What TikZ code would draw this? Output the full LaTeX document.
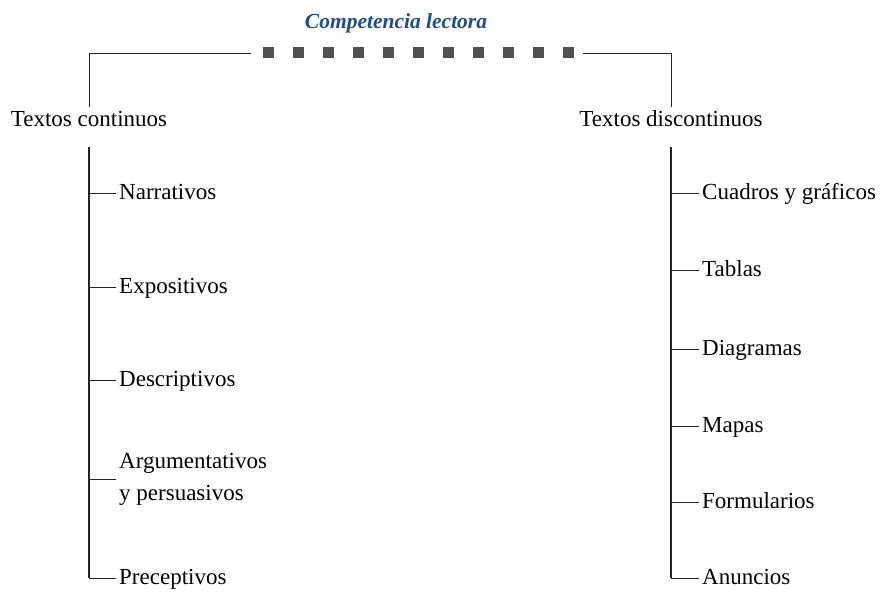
\documentclass[tikz,border=0pt]{standalone}
\usepackage{fontspec}
\setmainfont{Liberation Serif}
\usetikzlibrary{positioning,calc}
\definecolor{lectorablue}{RGB}{30,76,140}
\definecolor{markgray}{RGB}{80,80,80}
\definecolor{linegray}{RGB}{35,35,35}

\begin{document}
\begin{tikzpicture}[x=1pt, y=-1pt,
        every node/.style={font=\fontsize{23}{32}\selectfont, inner sep=3pt, text height=16pt, text depth=3pt},
        leaf/.style={anchor=west, align=left},
        spine/.style={draw=linegray, line width=1.6pt},
        branch/.style={draw=linegray, line width=0.9pt}]
    \useasboundingbox (0,0) rectangle (881,593);

    % title and the dotted bar
    \node[font=\fontsize{21.5}{26}\selectfont\bfseries\itshape, text=lectorablue] (title) at (396,22) {Competencia lectora};
    \coordinate (dotsl) at (263,53);
    \coordinate (dotsr) at (574,53);
    \coordinate (linel) at (251,53);
    \coordinate (liner) at (583,53);
    \draw[markgray, line width=11pt, dash pattern=on 11pt off 19pt] (dotsl) -- (dotsr);

    \node (cont) at (89,120) {Textos continuos};
    \node (disc) at (671,120) {Textos discontinuos};
    \draw[branch] (cont.north) |- (linel);
    \draw[branch] (disc.north) |- (liner);

    % continuous texts
    \node[leaf] (narr) at (116,193) {Narrativos};
    \node[leaf] (expo) at (116,287) {Expositivos};
    \node[leaf] (desc) at (116,380) {Descriptivos};
    \node[leaf, text height={}, text depth={}] (argu) at (116,479) {Argumentativos\\y persuasivos};
    \node[leaf] (prec) at (116,578) {Preceptivos};
    \coordinate (ltop) at (89,147);

    \draw[spine] (ltop) -- (ltop |- prec.west);
    \draw[branch] (ltop |- narr.west) -- (narr.west);
    \draw[branch] (ltop |- expo.west) -- (expo.west);
    \draw[branch] (ltop |- desc.west) -- (desc.west);
    \draw[branch] (ltop |- argu.west) -- (argu.west);
    \draw[branch] (ltop |- prec.west) -- (prec.west);

    % discontinuous texts
    \node[leaf] (cuad) at (699,193) {Cuadros y gráficos};
    \node[leaf] (tabl) at (699,270) {Tablas};
    \node[leaf] (diag) at (699,349) {Diagramas};
    \node[leaf] (mapa) at (699,426) {Mapas};
    \node[leaf] (form) at (699,502) {Formularios};
    \node[leaf] (anun) at (699,578) {Anuncios};
    \coordinate (rtop) at (671,147);

    \draw[spine] (rtop) -- (rtop |- anun.west);
    \draw[branch] (rtop |- cuad.west) -- (cuad.west);
    \draw[branch] (rtop |- tabl.west) -- (tabl.west);
    \draw[branch] (rtop |- diag.west) -- (diag.west);
    \draw[branch] (rtop |- mapa.west) -- (mapa.west);
    \draw[branch] (rtop |- form.west) -- (form.west);
    \draw[branch] (rtop |- anun.west) -- (anun.west);
\end{tikzpicture}
\end{document}
